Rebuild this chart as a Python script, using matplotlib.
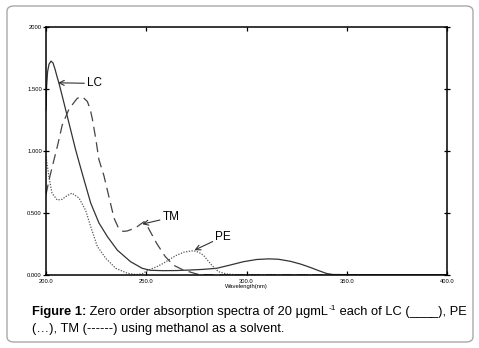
import matplotlib
matplotlib.use("Agg")
import matplotlib.pyplot as plt
from matplotlib.patches import FancyBboxPatch

plt.rcParams['font.family'] = ['Liberation Sans', 'DejaVu Sans']

# LC (solid)
lc_x = [200.0, 200.3, 200.8, 201.5, 202.5, 203.5, 204.5, 205.5, 206.5, 208.0, 210.0, 212.0, 214.8,
        217.0, 219.0, 222.3, 226.4, 230.6, 235.6, 242.2, 248.0, 252.0, 258.5, 265.0, 271.8,
        278.0, 285.1, 291.8, 298.4, 305.0, 311.0, 316.0, 322.0, 327.0, 332.0, 336.0, 340.0,
        343.0, 350.0, 400.0]
lc_y = [1.33, 1.52, 1.64, 1.70, 1.725, 1.71, 1.66, 1.60, 1.545, 1.45, 1.32, 1.19, 1.008,
        0.88, 0.766, 0.58, 0.42, 0.31, 0.20, 0.107, 0.054, 0.038, 0.035, 0.036, 0.04,
        0.045, 0.054, 0.08, 0.107, 0.125, 0.13, 0.127, 0.11, 0.088, 0.06, 0.035, 0.012,
        0.004, 0.003, 0.003]

# PE (dotted)
pe_x = [200.0, 201.5, 203.0, 205.6, 208.0, 210.5, 213.0, 216.5, 219.8, 222.3, 225.6, 229.8,
        234.8, 240.6, 245.0, 248.0, 251.0, 255.0, 258.5, 262.0, 265.2, 269.0, 273.5, 276.0,
        278.5, 282.6, 286.0, 290.1, 295.0, 400.0]
pe_y = [0.954, 0.79, 0.66, 0.605, 0.61, 0.64, 0.66, 0.62, 0.52, 0.39, 0.23, 0.135,
        0.054, 0.014, 0.003, 0.01, 0.04, 0.065, 0.094, 0.13, 0.16, 0.185, 0.196, 0.185,
        0.16, 0.08, 0.027, 0.008, 0.002, 0.002]

# TM (dashed)
tm_x = [200.0, 202.0, 204.0, 206.0, 208.1, 211.5, 215.6, 218.1, 220.6, 222.0, 223.1, 224.8, 226.4,
        228.9, 231.4, 233.9, 236.4, 238.5, 240.5, 243.0, 245.5, 248.9, 251.0, 255.2, 259.4,
        263.5, 268.5, 275.2, 280.0, 290.0, 400.0]
tm_y = [0.65, 0.80, 0.93, 1.06, 1.21, 1.34, 1.425, 1.438, 1.40, 1.34, 1.26, 1.10, 0.93,
        0.80, 0.63, 0.46, 0.37, 0.352, 0.355, 0.37, 0.39, 0.43, 0.38, 0.255, 0.15,
        0.08, 0.04, 0.008, 0.002, 0.0, 0.0]

x_ticks = [200, 250, 300, 350, 400]
x_labels = ["200.0", "250.0", "300.0", "350.0", "400.0"]
y_ticks = [0.0, 0.5, 1.0, 1.5, 2.0]
y_labels = ["0.000", "0.500", "1.000", "1.500", "2000"]

W, H = 479, 348
fig = plt.figure(figsize=(W / 100, H / 100), dpi=100)

# rounded outer frame
frame = FancyBboxPatch((7 / W, 6 / H), (473 - 7) / W, (342 - 6) / H,
                       boxstyle="round,pad=0,rounding_size=0.015",
                       transform=fig.transFigure, facecolor='none',
                       edgecolor='#a8a8a8', linewidth=1.0, zorder=-5)
fig.patches.append(frame)

ax = fig.add_axes([46 / W, (H - 275) / H, (447 - 46) / W, (275 - 27) / H])
ax.set_facecolor('none')

ax.plot(lc_x, lc_y, color='#333333', lw=0.9, ls='-')
ax.plot(pe_x, pe_y, color='#555555', lw=0.9, ls=(0, (1, 1.2)))
ax.plot(tm_x, tm_y, color='#444444', lw=0.9, ls=(0, (8, 4.5)))

ax.set_xlim(200, 400)
ax.set_ylim(0, 2.0)
ax.set_xticks(x_ticks)
ax.set_xticklabels(x_labels)
ax.set_yticks(y_ticks)
ax.set_yticklabels(y_labels)
for s in ax.spines.values():
    s.set_linewidth(1.1)
    s.set_color('black')
ax.tick_params(axis='x', direction='in', length=3, width=0.9, labelsize=4.2, pad=3,
               top=True, bottom=True)
ax.tick_params(axis='y', direction='inout', length=4, width=0.9, labelsize=4.2, pad=1,
               left=True, right=True)
ax.set_xlabel("Wavelength(nm)", fontsize=4.2, labelpad=0)

arrow = dict(arrowstyle='->', color='#333333', lw=0.8, shrinkA=0, shrinkB=0,
             mutation_scale=9)
ax.annotate("LC", xy=(206.0, 1.55), xytext=(220.5, 1.545), fontsize=8.5,
            va='center', ha='left', arrowprops=arrow)
ax.annotate("TM", xy=(248.0, 0.41), xytext=(258.2, 0.465), fontsize=8.5,
            va='center', ha='left', arrowprops=arrow)
ax.annotate("PE", xy=(274.0, 0.20), xytext=(284.5, 0.31), fontsize=8.5,
            va='center', ha='left', arrowprops=arrow)

# caption
fs = 9.3
y1 = 1 - 315 / H
x0 = 32 / W
renderer = fig.canvas.get_renderer()
parts = [("Figure 1:", dict(fontweight='bold', fontsize=fs), 0.0),
         (" Zero order absorption spectra of 20 \u00b5gmL", dict(fontsize=fs), 0.0),
         ("-1", dict(fontsize=6), 4.5 / H),
         (" each of LC (____), PE", dict(fontsize=fs), 0.0)]
x = x0
for txt, kw, dy in parts:
    t = fig.text(x, y1 + dy, txt, ha='left', va='baseline', **kw)
    bb = t.get_window_extent(renderer=renderer)
    x = bb.x1 / W
fig.text(x0, 1 - 332 / H, "(\u2026), TM (------) using methanol as a solvent.",
         fontsize=fs, ha='left', va='baseline')

fig.savefig("out.png", dpi=100)
